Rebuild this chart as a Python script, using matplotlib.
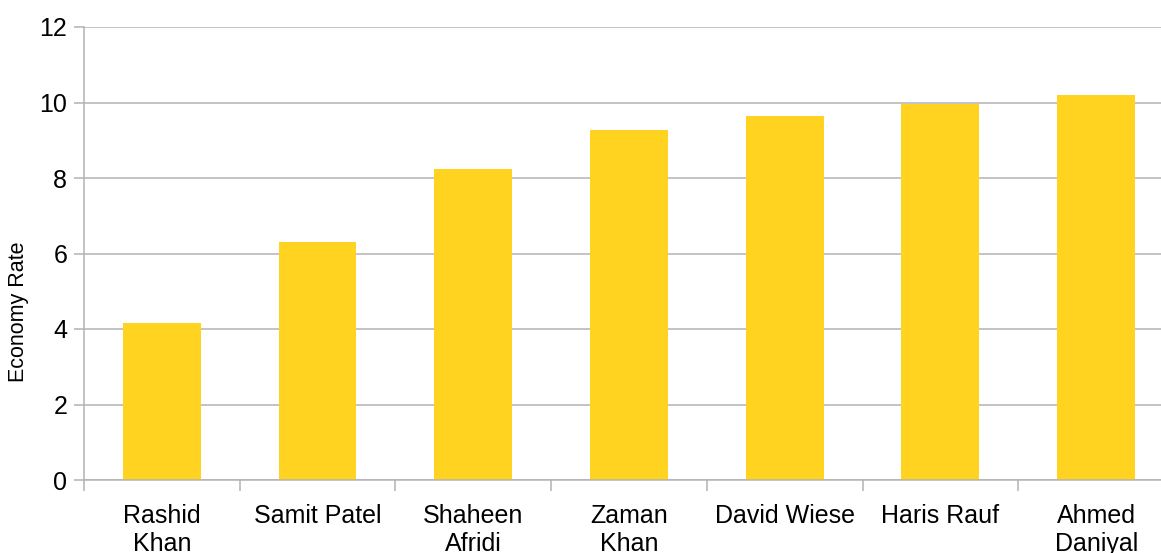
import matplotlib.pyplot as plt
import numpy as np

players = ["Rashid\nKhan", "Samit Patel", "Shaheen\nAfridi", "Zaman\nKhan",
           "David Wiese", "Haris Rauf", "Ahmed\nDaniyal"]
economy = [4.17, 6.31, 8.25, 9.26, 9.63, 9.95, 10.19]

plt.rcParams['font.family'] = ['Liberation Sans', 'DejaVu Sans']

fig = plt.figure(figsize=(11.61, 5.53), dpi=100)
ax = fig.add_axes([84 / 1161, 1 - 480 / 553, (1174 - 84) / 1161, (480 - 27) / 553])

x = np.arange(len(players))
ax.bar(x, economy, width=0.5, color="#ffd320", zorder=2)

ax.set_xlim(-0.5, len(players) - 0.5)
ax.set_ylim(0, 12)
ax.set_yticks(range(0, 13, 2))
ax.yaxis.grid(True, color="#b3b3b3", linewidth=1.1)
ax.set_axisbelow(True)

ax.set_xticks(x)
ax.set_xticklabels(players, fontsize=18, linespacing=1.25)
ax.set_xticks(np.arange(-0.5, len(players), 1), minor=True)
ax.tick_params(axis="x", which="major", length=0, pad=17)
ax.tick_params(axis="x", which="minor", length=8, width=1.1, color="#b3b3b3")
ax.tick_params(axis="y", length=7, width=1.1, color="#b3b3b3", pad=5, labelsize=18)

for side in ["top", "right"]:
    ax.spines[side].set_visible(False)
for side in ["left", "bottom"]:
    ax.spines[side].set_color("#b3b3b3")
    ax.spines[side].set_linewidth(1.1)

ax.set_ylabel("Economy Rate", fontsize=15.5)
ax.yaxis.set_label_coords(-0.05, 0.371)

fig.savefig("out.png", dpi=100)
